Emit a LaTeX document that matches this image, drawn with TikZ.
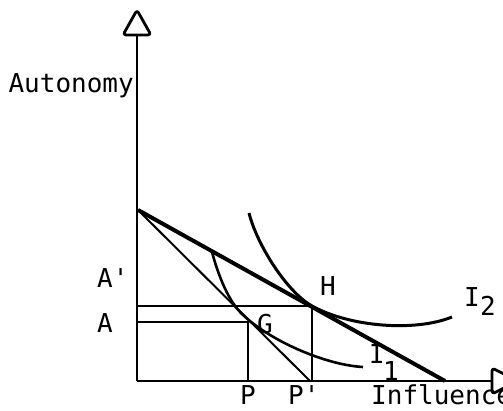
\documentclass[tikz,border=0pt]{standalone}
\usepackage{fontspec}
\setmonofont{DejaVu Sans Mono}
\begin{document}
\begin{tikzpicture}[x=1pt,y=-1pt,
  lbl/.style={font=\ttfamily\fontsize{26}{28}\selectfont, inner sep=0pt},
  axis/.style={line width=2.4pt},
  thin/.style={line width=2pt},
  thick/.style={line width=4pt},
  curve/.style={line width=2.6pt},
  tip/.style={line width=2.8pt, rounded corners=3pt, fill=white, line join=round}]
\useasboundingbox (0,0) rectangle (503,411);
% key points
\coordinate (O) at (137,381);
\coordinate (Ytop) at (137,28);
\coordinate (Xend) at (494,381);
\coordinate (K) at (138,210);
\coordinate (S) at (310,381);
\coordinate (T) at (445,381);
\coordinate (H) at (312,306);
\coordinate (Hp) at (312,381);
\coordinate (Ap) at (137,306);
\coordinate (Aa) at (137,322);
\coordinate (Gq) at (248,322);
\coordinate (Pq) at (248,381);
% axes
\draw[axis] (O) -- (Ytop);
\draw[axis] (O) -- (Xend);
\draw[tip] (137,10) -- (151,35) -- (123,35) -- cycle;
\draw[tip] (518,381) -- (492,394) -- (492,368) -- cycle;
% budget lines
\draw[thin] (K) -- (S);
\draw[thick] (K) -- (T);
% projections
\draw[thin] (Ap) -- (H) -- (Hp);
\draw[thin] (Aa) -- (Gq) -- (Pq);
% indifference curves
\draw[curve] (212,252) .. controls (219,278) and (229,301) .. (241,313)
   .. controls (268,340) and (325,365) .. (363,367);
\draw[curve,line width=3pt] (249,213) .. controls (257,245) and (287,292) .. (H)
   .. controls (350,327) and (415,332) .. (452,317);
% labels
\node[lbl, anchor=east] (ylab) at (134,86) {Autonomy};
\node[lbl, anchor=base west] (xlab) at (371,404) {Influence};
\node[lbl, anchor=west] (lAp) at (97,278) {A'};
\node[lbl, anchor=west] (lA) at (97,323) {A};
\node[lbl] (lH) at (328,286) {H};
\node[lbl] (lG) at (265,324) {G};
\node[lbl, anchor=base] (lP) at (248,404) {P};
\node[lbl, anchor=base west] (lPp) at (288,404) {P'};
\node[lbl] (lI1) at (377,354) {I};
\node[lbl, anchor=base, text depth=0pt] (lI1s) at (391,380) {1};
\node[lbl] (lI2) at (472,297) {I};
\node[lbl] (lI2s) at (488,306) {2};
\end{tikzpicture}
\end{document}
